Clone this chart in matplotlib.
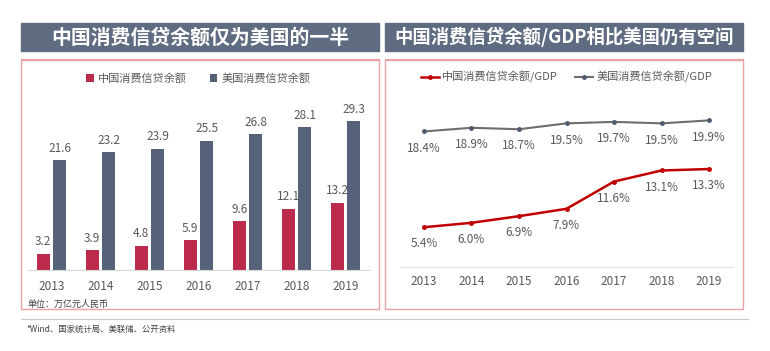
import matplotlib
matplotlib.use('Agg')
import matplotlib.pyplot as plt
from matplotlib.patches import Rectangle
from matplotlib.lines import Line2D

plt.rcParams['font.family'] = ['Noto Sans CJK SC', 'DejaVu Sans']

years = ['2013', '2014', '2015', '2016', '2017', '2018', '2019']
cn_credit = [3.2, 3.9, 4.8, 5.9, 9.6, 12.1, 13.2]
us_credit = [21.6, 23.2, 23.9, 25.5, 26.8, 28.1, 29.3]
cn_ratio = [5.4, 6.0, 6.9, 7.9, 11.6, 13.1, 13.3]
us_ratio = [18.4, 18.9, 18.7, 19.5, 19.7, 19.5, 19.9]

W, H = 770, 351
RED = '#BC2B4B'
SLATE = '#56627A'
BAR = '#5E6B80'
PINK = '#E9A3A5'
TXT = '#595959'


def box(x0, y0, x1, y1):
    # pixel box (top-left origin) -> figure fraction rect
    return [x0 / W, 1 - y1 / H, (x1 - x0) / W, (y1 - y0) / H]


fig = plt.figure(figsize=(W / 100, H / 100), dpi=100)

# title bars, frames and separators
for x0, x1, title, fs in [(21, 379, '中国消费信贷余额仅为美国的一半', 14.3),
                          (385, 743, '中国消费信贷余额/GDP相比美国仍有空间', 13.2)]:
    fig.patches.append(Rectangle((x0 / W, 1 - 51 / H), (x1 - x0) / W, 28 / H,
                                 transform=fig.transFigure, color=BAR, zorder=0))
    fig.text((x0 + x1) / 2 / W, 1 - 37 / H, title, color='white', fontsize=fs,
             fontweight='bold', ha='center', va='center')
    fig.lines.append(Line2D([x0 / W, x1 / W], [1 - 59 / H] * 2, transform=fig.transFigure,
                            color=PINK, lw=0.8))
    fig.patches.append(Rectangle((x0 / W, 1 - 309 / H), (x1 - x0) / W, 249 / H,
                                 transform=fig.transFigure, fill=False, ec=PINK, lw=1.0))

fig.lines.append(Line2D([21 / W, 748 / W], [1 - 319 / H] * 2, transform=fig.transFigure,
                        color='#C8C8C8', lw=0.8))
fig.text(26 / W, 1 - 329 / H, '*Wind、国家统计局、美联储、公开资料', fontsize=6,
         style='italic', color='#404040', va='center')

# left: bars
ax = fig.add_axes(box(27, 60, 370, 270))
x = range(len(years))
w = 0.27
b1 = ax.bar([i - 0.17 for i in x], cn_credit, w, color=RED, label='中国消费信贷余额')
b2 = ax.bar([i + 0.17 for i in x], us_credit, w, color=SLATE, label='美国消费信贷余额')
for bars, vals in [(b1, cn_credit), (b2, us_credit)]:
    for r, v in zip(bars, vals):
        ax.annotate(f'{v:.1f}', (r.get_x() + r.get_width() / 2, v), xytext=(0, 4),
                    textcoords='offset points', ha='center', va='bottom',
                    fontsize=8.5, color=TXT)
ax.set_xlim(-0.5, 6.5)
ax.set_ylim(0, 41.4)
ax.set_xticks(list(x))
ax.set_xticklabels(years, fontsize=8.5, color=TXT)
ax.tick_params(length=0, pad=7)
ax.set_yticks([])
for s in ['top', 'right', 'left']:
    ax.spines[s].set_visible(False)
ax.spines['bottom'].set_color('#D9D9D9')
ax.legend(loc='center', bbox_to_anchor=(0.5, 0.91), ncol=2, frameon=False,
          fontsize=8, handlelength=0.7, handleheight=0.7, columnspacing=2.0,
          handletextpad=0.4, labelcolor=TXT)
fig.text(27 / W, 1 - 304 / H, '单位：万亿元人民币', fontsize=6.5, style='italic',
         color='#404040', va='center')

# right: lines
ax2 = fig.add_axes(box(400, 60, 733, 267))
ax2.plot(list(x), cn_ratio, color='#C00000', lw=1.8, marker='o', ms=2.5,
         label='中国消费信贷余额/GDP')
ax2.plot(list(x), us_ratio, color='#6E6E6E', lw=1.5, marker='o', ms=2.5,
         markerfacecolor='#4F5B6E', markeredgecolor='#4F5B6E',
         label='美国消费信贷余额/GDP')
for vals in [cn_ratio, us_ratio]:
    for i, v in enumerate(vals):
        ax2.annotate(f'{v:.1f}%', (i, v), xytext=(0, -12), textcoords='offset points',
                     ha='center', va='center', fontsize=8.5, color=TXT)
ax2.set_xlim(-0.505, 6.505)
ax2.set_ylim(0, 28.1)
ax2.set_xticks(list(x))
ax2.set_xticklabels(years, fontsize=8.5, color=TXT)
ax2.tick_params(length=0, pad=6)
ax2.set_yticks([])
for s in ['top', 'right', 'left']:
    ax2.spines[s].set_visible(False)
ax2.spines['bottom'].set_color('#E3E3E3')
ax2.legend(loc='center', bbox_to_anchor=(0.5, 0.918), ncol=2, frameon=False,
           fontsize=8, handlelength=1.6, columnspacing=1.6, handletextpad=0.3,
           labelcolor=TXT)

fig.savefig('out.png', dpi=100)
